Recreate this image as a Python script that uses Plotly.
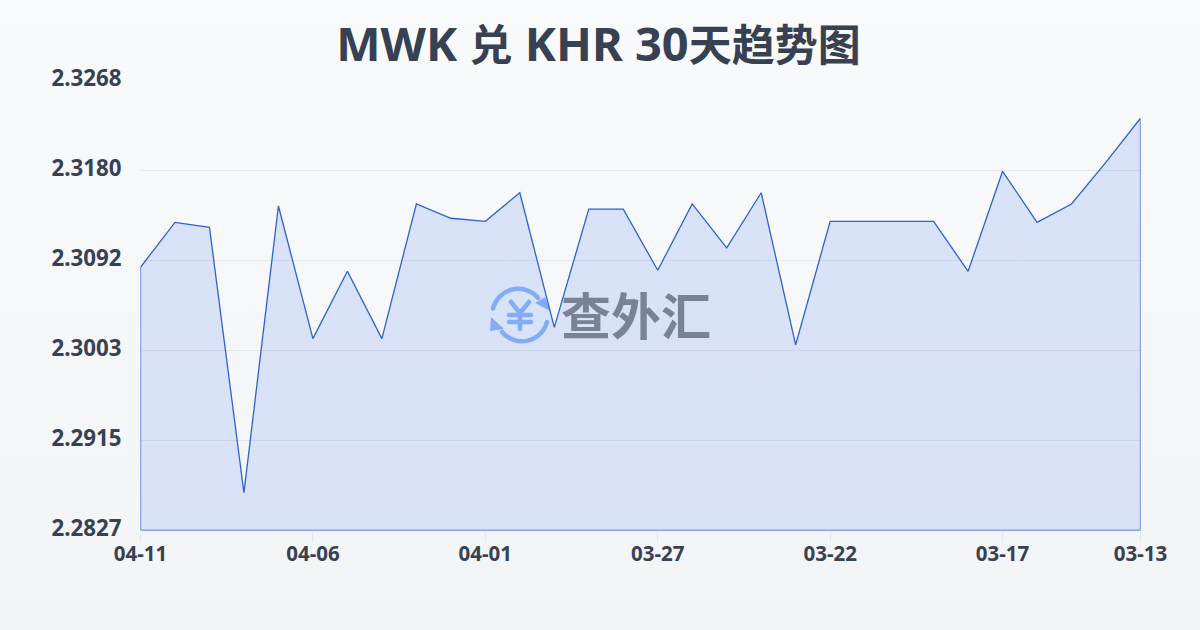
import base64
import plotly.graph_objects as go

title_parts = [("MWK ", 47), ("兑", 43), (" KHR 30", 47), ("天趋势图", 43)]
dates = ["04-11","04-10","04-09","04-08","04-07","04-06","04-05","04-04","04-03","04-02",
         "04-01","03-31","03-30","03-29","03-28","03-27","03-26","03-25","03-24","03-23",
         "03-22","03-21","03-20","03-19","03-18","03-17","03-16","03-15","03-14","03-13"]
rates = [2.3085,2.3129,2.3124,2.2864,2.3145,2.3015,2.3081,2.3015,2.3147,2.3133,
         2.3130,2.3158,2.3026,2.3142,2.3142,2.3082,2.3147,2.3104,2.3158,2.3009,
         2.3130,2.3130,2.3130,2.3130,2.3081,2.3179,2.3129,2.3147,2.3188,2.3231]
y_ticks = [2.3268,2.31798,2.30916,2.30034,2.29152,2.2827]
x_ticks = ["04-11","04-06","04-01","03-27","03-22","03-17","03-13"]
y_floor = 2.2827
y_top = 2.3268

INK = "#374151"
FONT = "Noto Sans, Noto Sans CJK SC, sans-serif"
W, H = 1200, 630
L, R, T, B = 140, 59, 70, 99
PW, PH = W - L - R, H - T - B
UNIT = (y_top - y_floor) / 450

bg_svg = ('<svg xmlns="http://www.w3.org/2000/svg" width="1200" height="630">'
          '<defs><linearGradient id="g" x1="0" y1="0" x2="0" y2="1">'
          '<stop offset="0" stop-color="#f8fafc"/><stop offset="1" stop-color="#f3f4f6"/>'
          '</linearGradient></defs><rect width="1200" height="630" fill="url(#g)"/></svg>')
logo_svg = ('<svg xmlns="http://www.w3.org/2000/svg" width="64" height="64" viewBox="0 0 64 64">'
            '<g fill="none" stroke="#93b8f8" stroke-width="4.5" stroke-linecap="round" stroke-linejoin="round">'
            '<path d="M5 23.5 A26 26 0 0 1 50 13"/><path d="M59 37 A26 26 0 0 1 14 47"/>'
            '<path d="M23 17 L32 28 L41 17 M21 30 H43 M21 37 H43 M32 28 V44"/>'
            '</g><g fill="#93b8f8"><path d="M47 18 L62 26 L57 12 Z"/><path d="M3 32 L2 46 L16 44 Z"/></g></svg>')


def uri(s):
    return "data:image/svg+xml;base64," + base64.b64encode(s.encode()).decode()


def px(x):
    return (x - L) / PW


def py(y):
    return 1 - (y - T) / PH


title = "".join(f'<span style="font-size:{s}px">{t}</span>' for t, s in title_parts)

fig = go.Figure()
fig.add_trace(go.Scatter(
    x=[dates[0]] + dates + [dates[-1], dates[0]],
    y=[y_floor] + rates + [y_floor, y_floor],
    mode="lines",
    fill="toself",
    fillgradient=dict(type="vertical",
                      colorscale=[[0, "rgba(37,99,235,0.13)"], [1, "rgba(37,99,235,0.15)"]]),
    line=dict(color="#2f62cc", width=1.3),
    cliponaxis=False,
    hoverinfo="skip",
    showlegend=False,
))
fig.add_trace(go.Scatter(x=dates, y=rates, yaxis="y2", mode="lines", line=dict(width=0),
                         hoverinfo="skip", showlegend=False))

fig.update_layout(
    width=W, height=H,
    autosize=False,
    margin=dict(l=L, r=R, t=T, b=B, pad=0),
    paper_bgcolor="#f6f7f9",
    plot_bgcolor="rgba(0,0,0,0)",
    font=dict(family=FONT, color=INK),
    title=dict(text=title, x=0.49875, xanchor="center", y=0.93, yanchor="middle",
               font=dict(size=47, color=INK, family=FONT, weight="bold")),
    xaxis=dict(type="category", categoryorder="array", categoryarray=dates,
               domain=[0.5 / PW, 1000.5 / PW],
               range=[0, 29], tickmode="array", tickvals=x_ticks, ticktext=x_ticks,
               showgrid=False, zeroline=False, showline=False,
               ticks="outside", ticklen=10, tickcolor="#e5e7eb", tickwidth=1,
               ticklabelstandoff=-5,
               tickfont=dict(size=20.5, color=INK, weight="bold")),
    yaxis=dict(domain=[0.5 / PH, 450.5 / PH],
               range=[y_floor, y_top], tickmode="array", tickvals=y_ticks,
               showticklabels=False,
               showgrid=True, gridcolor="#e5e7eb", gridwidth=1, zeroline=False, showline=False,
               ticks=""),
    yaxis2=dict(domain=[0, 1], anchor="x", side="left",
                range=[y_floor - 2.5 * UNIT, y_floor + 458.5 * UNIT],
                tickmode="array", tickvals=y_ticks, tickformat=".4f",
                showgrid=False, zeroline=False, showline=False,
                ticks="", ticklabelstandoff=18,
                tickfont=dict(size=22.3, color=INK, weight="bold")),
    images=[
        dict(source=uri(bg_svg), xref="paper", yref="paper", x=px(0), y=py(0),
             sizex=W / PW, sizey=H / PH, xanchor="left", yanchor="top",
             sizing="stretch", layer="below"),
        dict(source=uri(logo_svg), xref="paper", yref="paper", x=px(488), y=py(285),
             sizex=64 / PW, sizey=64 / PH, xanchor="left", yanchor="top",
             sizing="stretch", layer="below"),
    ],
    annotations=[
        dict(text="查外汇", xref="paper", yref="paper", x=px(636), y=py(313),
             xanchor="center", yanchor="middle", showarrow=False,
             font=dict(size=50, color="#7a8396", family="Noto Sans CJK SC", weight="bold")),
    ],
)
fig.write_html("out.html", config={"displayModeBar": False},
               post_script="document.body.style.margin='0';document.body.style.overflow='hidden';")
